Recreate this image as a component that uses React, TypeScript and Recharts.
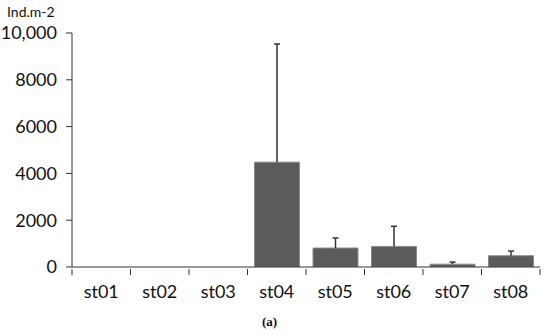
import { BarChart, Bar, XAxis, YAxis } from "recharts";

const stations = ["st01", "st02", "st03", "st04", "st05", "st06", "st07", "st08"];
const density = [0, 0, 0, 4480, 810, 880, 120, 480];
const densityErr = [0, 0, 0, 5050, 430, 860, 90, 200];
const yTicks = [0, 2000, 4000, 6000, 8000, 10000];

const data = stations.map((station, i) => ({
  station,
  density: density[i],
  err: densityErr[i],
}));

const FONT = "Lato, 'Open Sans', sans-serif";
const PLOT_LEFT = 72;
const PLOT_RIGHT = 10;
const WIDTH = 550;
const band = (WIDTH - PLOT_LEFT - PLOT_RIGHT) / stations.length;

const StationTick = (props: any) => {
  const { x, y, payload, index } = props;
  const axisY = y - 6;
  return (
    <g>
      <line x1={x - band / 2} x2={x - band / 2} y1={axisY} y2={axisY + 6} stroke="#333" />
      {index === stations.length - 1 && (
        <line x1={x + band / 2} x2={x + band / 2} y1={axisY} y2={axisY + 6} stroke="#333" />
      )}
      <text x={x} y={axisY + 29} textAnchor="middle" fill="#111" fontSize={18} fontFamily={FONT}>
        {payload.value}
      </text>
    </g>
  );
};

// upward-only error whisker, drawn from the stacked segment the library positions
const Whisker = (props: any) => {
  const { x, y, width, height } = props;
  if (!height || height <= 0) return null;
  const cx = x + width / 2;
  return (
    <g stroke="#333" strokeWidth={1.5}>
      <line x1={cx} x2={cx} y1={y + height} y2={y} />
      <line x1={cx - 3} x2={cx + 3} y1={y} y2={y} />
    </g>
  );
};

export default function App() {
  return (
    <div style={{ position: "absolute", left: 0, top: 0, width: WIDTH, height: 334, background: "#fff" }}>
      <BarChart
        width={WIDTH}
        height={334}
        data={data}
        barCategoryGap={7}
        margin={{ top: 33, right: PLOT_RIGHT, left: 0, bottom: 32 }}
      >
        <XAxis
          dataKey="station"
          stroke="#333"
          tickLine={false}
          tick={<StationTick />}
          interval={0}
          height={35}
        />
        <YAxis
          width={PLOT_LEFT}
          domain={[0, 10000]}
          ticks={yTicks}
          allowDataOverflow
          stroke="#333"
          tickSize={6}
          tickMargin={9}
          tick={{ fill: "#111", fontSize: 18, fontFamily: FONT }}
          tickFormatter={(v: number) => (v === 10000 ? "10,000" : String(v))}
        />
        <Bar
          dataKey="density"
          stackId="a"
          fill="#5b5b5b"
          stroke="#8a8a8a"
          strokeWidth={1}
          isAnimationActive={false}
        />
        <Bar dataKey="err" stackId="a" shape={<Whisker />} isAnimationActive={false} />
        <text x={7} y={17} fontSize={14} fill="#111" fontFamily={FONT}>
          Ind.m-2
        </text>
        <text x={262} y={326} fontSize={13} fontWeight="bold" fill="#111" fontFamily="'Liberation Serif', serif">
          (a)
        </text>
      </BarChart>
    </div>
  );
}
